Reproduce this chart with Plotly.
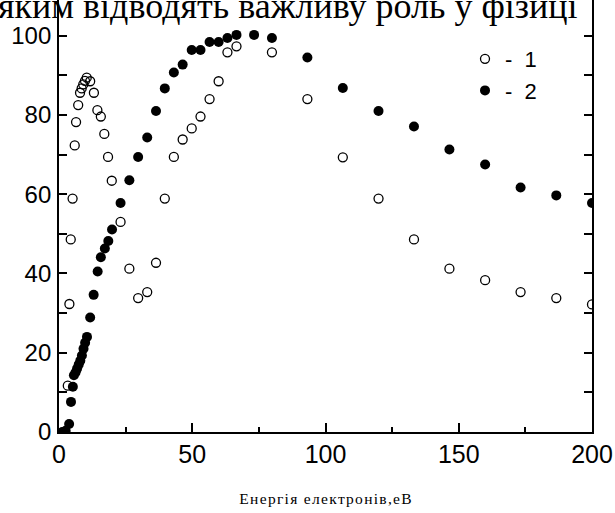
import plotly.graph_objects as go

# Series 1 (open circles)
x1 = [3.3, 3.9, 4.4, 5.1, 5.9, 6.4, 7.2, 7.9, 8.5, 9.1, 9.75, 10.4, 11.7, 13.1, 14.4, 15.7,
      17.0, 18.4, 19.8, 23.1, 26.4, 29.7, 33.1, 36.4, 39.7, 43.1, 46.4, 49.8, 53.1, 56.5,
      59.9, 63.2, 66.6, 79.9, 93.2, 106.5, 119.9, 133.2, 146.5, 159.9, 173.2, 186.6, 200.0]
y1 = [11.7, 32.3, 48.6, 58.9, 72.3, 78.2, 82.5, 85.6, 86.7, 87.7, 88.6, 89.4, 88.5, 85.6, 81.2, 79.6,
      75.2, 69.4, 63.4, 53.0, 41.2, 33.8, 35.3, 42.7, 58.9, 69.4, 73.8, 76.6, 79.6, 84.0,
      88.5, 95.8, 97.3, 95.8, 84.0, 69.3, 58.9, 48.6, 41.2, 38.3, 35.3, 33.8, 32.2]

# Series 2 (filled circles)
x2 = [1.2, 2.5, 3.8, 4.5, 5.2, 5.6, 6.2, 6.8, 7.4, 8.0, 8.6, 9.2, 9.8, 10.5, 11.7, 13.0,
      14.5, 15.7, 17.2, 18.5, 19.9, 23.1, 26.4, 29.7, 33.1, 36.4, 39.7, 43.1, 46.4, 49.8,
      53.1, 56.5, 59.9, 63.2, 66.6, 73.2, 79.9, 93.2, 106.5, 119.9, 133.2, 146.5, 159.9,
      173.2, 186.6, 200.0]
y2 = [0.0, 0.3, 2.0, 7.6, 11.4, 14.3, 15.0, 16.0, 17.0, 18.0, 19.3, 21.0, 22.5, 24.0, 28.9, 34.6,
      40.5, 44.1, 46.3, 48.2, 51.1, 57.8, 63.5, 69.4, 74.3, 81.0, 86.7, 90.7, 92.7, 96.4,
      96.4, 98.4, 98.4, 99.4, 100.2, 100.2, 99.4, 94.5, 86.8, 81.0, 77.1, 71.3, 67.5,
      61.7, 59.7, 57.8]

names = ["-\u00a0\u00a01", "-\u00a0\u00a02"]
xtitle = "Енергія електронів,еВ"
top_text = "яким відводять важливу роль у фізиці"

spaced_title = "\u200a".join(list(xtitle))

fig = go.Figure()
fig.add_trace(go.Scatter(x=x1, y=y1, mode="markers", name=names[0],
                         marker=dict(symbol="circle-open", size=9, color="black",
                                     line=dict(width=1.3, color="black"))))
fig.add_trace(go.Scatter(x=x2, y=y2, mode="markers", name=names[1],
                         marker=dict(symbol="circle", size=10, color="black",
                                     line=dict(width=0))))

L, R, T, B = 59, 23, 0, 81
W, H = 615, 513
pw, ph = W - L - R, H - T - B

fig.update_layout(
    width=W, height=H,
    margin=dict(l=L, r=R, t=T, b=B, pad=0),
    paper_bgcolor="white", plot_bgcolor="white",
    showlegend=True,
    legend=dict(x=(465 - L) / pw, y=(ph - 38) / ph, xanchor="left", yanchor="top",
                font=dict(family="Liberation Sans", size=22, color="black"),
                bgcolor="rgba(0,0,0,0)", borderwidth=0, tracegroupgap=0,
                itemwidth=30),
    font=dict(family="Liberation Sans", color="black"),
)

fig.update_xaxes(range=[0, 200], showgrid=False, zeroline=False,
                 showline=True, linecolor="black", linewidth=1.8, mirror=False,
                 ticks="inside", ticklen=9, tickwidth=1.5, tickcolor="black",
                 dtick=50, tick0=0,
                 minor=dict(dtick=25, ticks="inside", ticklen=5, tickwidth=1.5, tickcolor="black"),
                 tickfont=dict(family="Liberation Sans", size=25, color="black"),
                 ticklabelstandoff=-1,
                 title=dict(text=spaced_title, standoff=26,
                            font=dict(family="Liberation Serif", size=15.5, color="black")))
fig.update_yaxes(range=[0, 109], showgrid=False, zeroline=False,
                 showline=True, linecolor="black", linewidth=1.8, mirror="ticks",
                 ticks="inside", ticklen=8, tickwidth=1.5, tickcolor="black",
                 tickvals=[0, 20, 40, 60, 80, 100],
                 minor=dict(tickvals=[10, 30, 50, 70, 90], ticks="inside", ticklen=8,
                            tickwidth=1.5, tickcolor="black"),
                 tickfont=dict(family="Liberation Sans", size=24, color="black"),
                 ticklabelstandoff=1)

fig.add_annotation(text=top_text, xref="paper", yref="paper",
                   x=(-4 - L) / pw, y=(ph - 5.5) / ph, xanchor="left", yanchor="middle",
                   showarrow=False,
                   font=dict(family="Liberation Serif", size=36, color="black"))

fig.write_html("out.html")
